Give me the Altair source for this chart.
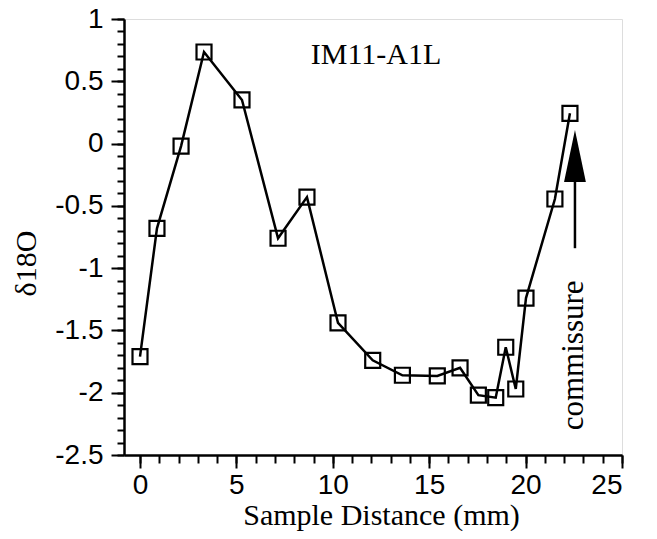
import altair as alt
import pandas as pd

# data
distance = [0.0, 0.88, 2.13, 3.32, 5.29, 7.16, 8.66, 10.27, 12.07, 13.61,
            15.42, 16.6, 17.55, 18.45, 18.97, 19.49, 20.02, 21.52, 22.3]
d18o = [-1.71, -0.68, -0.02, 0.735, 0.35, -0.76, -0.43, -1.44, -1.74, -1.86,
        -1.865, -1.80, -2.02, -2.04, -1.635, -1.97, -1.24, -0.445, 0.243]

x_major = [0, 5, 10, 15, 20, 25]
y_major = [-2.5, -2, -1.5, -1, -0.5, 0, 0.5, 1]
x_minor = list(range(0, 26))
y_minor = [round(-2.5 + 0.1 * i, 1) for i in range(36)]

label_text = ["IM11-A1L"]
label_x = [12.24]
label_y = [0.715]

comm_text = ["commissure"]
comm_x = [22.5]
comm_y = [-1.70]

arrow_x = [22.56]
arrow_y_bottom = [-0.84]
arrow_y_base = [-0.30]
arrow_y_head = [-0.10]

df = pd.DataFrame({"x": distance, "y": d18o})
df_lab = pd.DataFrame({"x": label_x, "y": label_y, "t": label_text})
df_comm = pd.DataFrame({"x": comm_x, "y": comm_y, "t": comm_text})
df_arrow = pd.DataFrame({"x": arrow_x, "y": arrow_y_bottom, "y2": arrow_y_base,
                         "yh": arrow_y_head})

xscale = alt.Scale(domain=[-0.83, 25], nice=False, zero=False)
yscale = alt.Scale(domain=[-2.5, 1], nice=False, zero=False)

SANS = "Liberation Sans"
SERIF = "Liberation Serif"

x_axis = alt.Axis(values=x_major, orient="bottom", grid=False, tickSize=13,
                  tickWidth=2, tickColor="black", domainColor="black",
                  domainWidth=2.5, labelFont=SANS, labelFontSize=28,
                  labelColor="black", labelPadding=3, labelExpr="'' + datum.value",
                  title="Sample Distance (mm)", titleFont=SERIF, titleFontSize=30,
                  titleFontWeight="normal", titleColor="black",
                  titleX=257, titleY=69, titleBaseline="alphabetic")
y_axis = alt.Axis(values=y_major, orient="left", grid=False, tickSize=13,
                  tickWidth=2, tickColor="black", domainColor="black",
                  domainWidth=2.5, labelFont=SANS, labelFontSize=28,
                  labelColor="black", labelPadding=8, labelExpr="'' + datum.value",
                  title="δ18O", titleFont=SERIF, titleFontSize=30,
                  titleFontWeight="normal", titleColor="black",
                  titleX=-98, titleY=244, titleBaseline="middle", titleAngle=270)

x_minor_axis = alt.Axis(values=x_minor, orient="bottom", grid=False, tickSize=8,
                        tickWidth=2, tickColor="black", domain=False, labels=False,
                        title="")
y_minor_axis = alt.Axis(values=y_minor, orient="left", grid=False, tickSize=7,
                        tickWidth=2, tickColor="black", domain=False, labels=False,
                        title="")

minor = alt.Chart(df).mark_point(opacity=0).encode(
    x=alt.X("x:Q", scale=xscale, axis=x_minor_axis),
    y=alt.Y("y:Q", scale=yscale, axis=y_minor_axis),
)

line = alt.Chart(df).mark_line(color="black", strokeWidth=2.5).encode(
    x=alt.X("x:Q", scale=xscale, axis=x_axis),
    y=alt.Y("y:Q", scale=yscale, axis=y_axis),
)

points = alt.Chart(df).mark_point(shape="square", filled=False, size=225,
                                  strokeWidth=2.2, color="black", opacity=1).encode(
    x=alt.X("x:Q", scale=xscale),
    y=alt.Y("y:Q", scale=yscale),
)

shaft = alt.Chart(df_arrow).mark_rule(color="black", strokeWidth=2.5).encode(
    x=alt.X("x:Q", scale=xscale),
    y=alt.Y("y:Q", scale=yscale),
    y2="y2:Q",
)

head = alt.Chart(df_arrow).mark_point(shape="M0,-1L0.42,1L-0.42,1Z", filled=True,
                                      size=2700, color="black", opacity=1,
                                      strokeWidth=0).encode(
    x=alt.X("x:Q", scale=xscale),
    y=alt.Y("yh:Q", scale=yscale),
)

lab = alt.Chart(df_lab).mark_text(font=SERIF, fontSize=30, color="black",
                                  baseline="middle", align="center").encode(
    x=alt.X("x:Q", scale=xscale),
    y=alt.Y("y:Q", scale=yscale),
    text="t:N",
)

comm = alt.Chart(df_comm).mark_text(font=SERIF, fontSize=31, color="black",
                                    baseline="middle", align="center",
                                    angle=270).encode(
    x=alt.X("x:Q", scale=xscale),
    y=alt.Y("y:Q", scale=yscale),
    text="t:N",
)

main = alt.layer(line, points, shaft, head, lab, comm)

chart = alt.layer(minor, main).resolve_axis(
    x="independent", y="independent"
).properties(
    width=498, height=436,
    autosize=alt.AutoSizeParams(type="none"),
    padding={"left": 116, "top": 11, "right": 20, "bottom": 76},
).configure_view(stroke="black", strokeWidth=2).configure(background="white")

chart.save("out.html", embed_options={"renderer": "svg", "actions": False})
